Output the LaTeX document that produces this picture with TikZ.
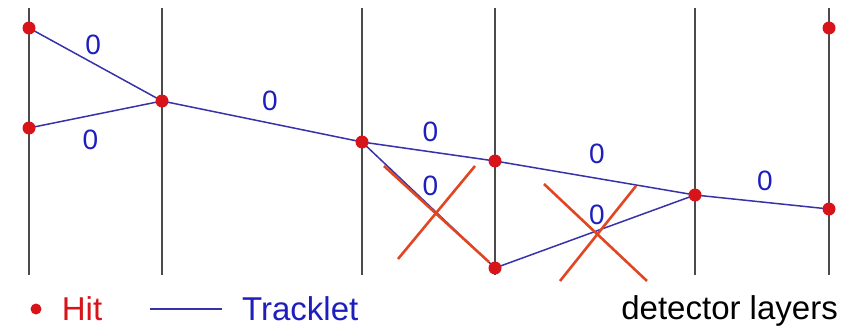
\documentclass[tikz,border=0pt]{standalone}
\usepackage{fontspec}
\setmainfont{Liberation Sans}
\usetikzlibrary{positioning}
\definecolor{hitred}{RGB}{215, 20, 25}
\definecolor{trkblue}{RGB}{55, 50, 170}
\definecolor{lblblue}{RGB}{30, 30, 190}
\definecolor{crossred}{RGB}{225, 70, 35}
\definecolor{layergray}{RGB}{75, 75, 75}
\tikzset{
  layer/.style={draw=layergray, line width=1.8pt},
  hit/.style={circle, fill=hitred, inner sep=0pt, minimum size=13pt},
  tracklet/.style={draw=trkblue, line width=1.5pt},
  weight/.style={text=lblblue, font=\fontsize{28}{28}\selectfont, inner sep=1pt},
  veto/.style={draw=crossred, line width=2.6pt},
  legtext/.style={font=\fontsize{33}{33}\selectfont, inner sep=0pt, anchor=west}
}

\begin{document}
\begin{tikzpicture}[x=1pt, y=-1pt]
  \useasboundingbox (0,0) rectangle (853,329);
  % detector layers
  \foreach \lx/\ln in {29/A, 162/B, 362/C, 495/D, 695/E, 829/F} {
    \coordinate (top\ln) at (\lx,8);
    \coordinate (bot\ln) at (\lx,275);
    \draw[layer] (top\ln) -- (bot\ln);
  }

  % hits
  \coordinate (a1) at (29,28);
  \coordinate (a2) at (29,128);
  \coordinate (b) at (162,101);
  \coordinate (c) at (362,142);
  \coordinate (d1) at (495,161);
  \coordinate (d2) at (495,268);
  \coordinate (e) at (695,195);
  \coordinate (f1) at (829,28);
  \coordinate (f2) at (829,209);

  % tracklets with weights
  \draw[tracklet] (a1) -- node[weight, above right=8pt and -12pt] {0} (b);
  \draw[tracklet] (a2) -- node[weight, below=14pt, xshift=-5pt] {0} (b);
  \draw[tracklet] (b) -- node[weight, above=9pt, xshift=8pt] {0} (c);
  \draw[tracklet] (c) -- node[weight, above=8pt, xshift=2pt] {0} (d1);
  \draw[tracklet] (c) -- node[weight, above=7pt, xshift=2pt] {0} (d2);
  \draw[tracklet] (d1) -- node[weight, above=12pt, xshift=2pt] {0} (e);
  \draw[tracklet] (d2) -- node[weight, above=5pt, xshift=2pt] {0} (e);
  \draw[tracklet] (e) -- node[weight, above=9pt, xshift=3pt] {0} (f2);

  % rejected tracklets
  \coordinate (x1a) at (384,166);
  \coordinate (x1b) at (489,262);
  \coordinate (x1c) at (475,166);
  \coordinate (x1d) at (398,259);
  \draw[veto] (x1a) -- (x1b);
  \draw[veto] (x1c) -- (x1d);
  \coordinate (x2a) at (544,184);
  \coordinate (x2b) at (647,281);
  \coordinate (x2c) at (636,186);
  \coordinate (x2d) at (560,281);
  \draw[veto] (x2a) -- (x2b);
  \draw[veto] (x2c) -- (x2d);

  \foreach \h in {a1, a2, b, c, d1, d2, e, f1, f2}
    \node[hit] (hit\h) at (\h) {};

  % legend
  \node[hit, minimum size=11pt] (leghit) at (36,309) {};
  \node[legtext, text=hitred, right=20pt of leghit] (hitlabel) {Hit};
  \coordinate (legl) at (150,309);
  \coordinate (legr) at (222,309);
  \draw[tracklet] (legl) -- (legr);
  \node[legtext, text=lblblue, right=20pt of legr] (trklabel) {Tracklet};
  \node[legtext, anchor=east] (laylabel) at (838,311) {detector layers};
\end{tikzpicture}
\end{document}
